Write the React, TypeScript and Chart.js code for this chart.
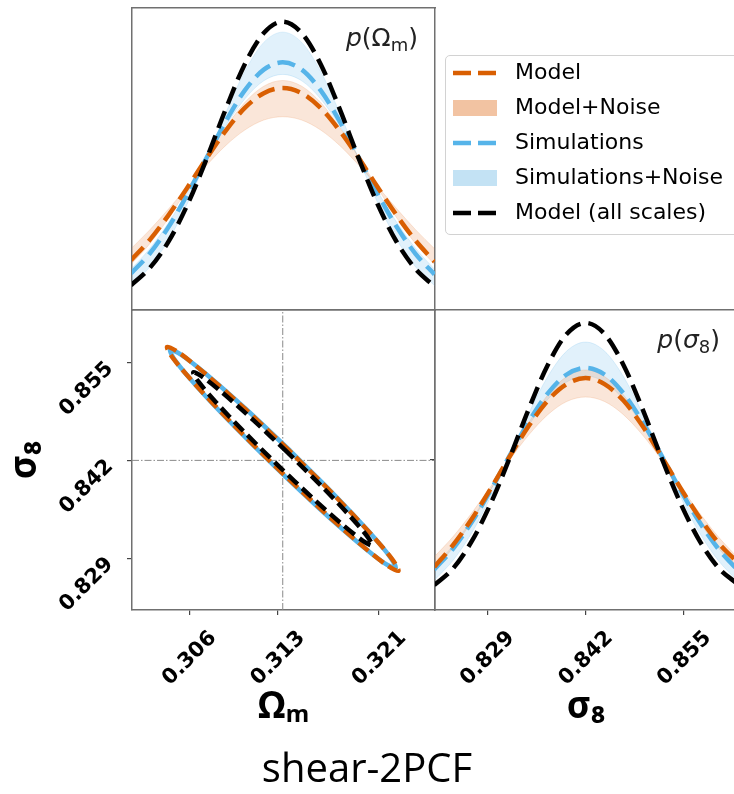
import React, { useEffect, useRef } from "react";
import { Chart, registerables } from "chart.js";

Chart.register(...registerables);

// ---------------- data ----------------
// 1D marginal of Omega_m (top-left panel)
const omegaGrid = [0.3014, 0.3029, 0.3044, 0.3059, 0.3074, 0.3089, 0.3104, 0.3119, 0.3134, 0.3149, 0.3164, 0.3179, 0.3194, 0.3209, 0.3224, 0.3239, 0.3254];
const pOmegaAllScales = [0.082, 0.14, 0.229, 0.352, 0.503, 0.666, 0.814, 0.917, 0.955, 0.917, 0.814, 0.666, 0.503, 0.351, 0.226, 0.136, 0.078];
const pOmegaModel = [0.165, 0.233, 0.316, 0.408, 0.504, 0.594, 0.669, 0.718, 0.735, 0.718, 0.669, 0.594, 0.504, 0.407, 0.314, 0.23, 0.16];
const pOmegaSims = [0.121, 0.188, 0.277, 0.386, 0.506, 0.625, 0.727, 0.796, 0.82, 0.796, 0.727, 0.625, 0.506, 0.385, 0.276, 0.186, 0.118];
const pOmegaModelNoiseHi = [0.151, 0.22, 0.306, 0.404, 0.507, 0.605, 0.687, 0.741, 0.76, 0.741, 0.687, 0.605, 0.507, 0.404, 0.306, 0.22, 0.151];
const pOmegaModelNoiseLo = [0.203, 0.266, 0.336, 0.409, 0.48, 0.545, 0.596, 0.629, 0.64, 0.629, 0.596, 0.545, 0.48, 0.409, 0.336, 0.266, 0.203];
const pOmegaSimsNoiseHi = [0.081, 0.143, 0.234, 0.356, 0.501, 0.653, 0.79, 0.886, 0.92, 0.886, 0.79, 0.653, 0.501, 0.356, 0.234, 0.143, 0.081];
const pOmegaSimsNoiseLo = [0.135, 0.204, 0.291, 0.393, 0.503, 0.61, 0.699, 0.759, 0.78, 0.759, 0.699, 0.61, 0.503, 0.393, 0.291, 0.204, 0.135];

// 1D marginal of sigma_8 (bottom-right panel)
const sigmaGrid = [0.822, 0.8245, 0.827, 0.8295, 0.832, 0.8345, 0.837, 0.8395, 0.842, 0.8445, 0.847, 0.8495, 0.852, 0.8545, 0.857, 0.8595, 0.862];
const pSigmaAllScales = [0.083, 0.139, 0.231, 0.357, 0.509, 0.671, 0.817, 0.92, 0.957, 0.92, 0.817, 0.671, 0.509, 0.358, 0.233, 0.142, 0.088];
const pSigmaModel = [0.143, 0.217, 0.305, 0.406, 0.513, 0.614, 0.698, 0.753, 0.773, 0.753, 0.698, 0.614, 0.513, 0.408, 0.31, 0.225, 0.16];
const pSigmaSims = [0.135, 0.205, 0.295, 0.401, 0.516, 0.628, 0.722, 0.785, 0.807, 0.785, 0.722, 0.628, 0.516, 0.401, 0.295, 0.205, 0.135];
const pSigmaModelNoiseHi = [0.138, 0.208, 0.297, 0.402, 0.515, 0.625, 0.717, 0.778, 0.8, 0.778, 0.717, 0.625, 0.515, 0.402, 0.297, 0.208, 0.138];
const pSigmaModelNoiseLo = [0.177, 0.245, 0.325, 0.413, 0.502, 0.584, 0.651, 0.695, 0.71, 0.695, 0.651, 0.584, 0.502, 0.413, 0.325, 0.245, 0.177];
const pSigmaSimsNoiseHi = [0.099, 0.166, 0.259, 0.379, 0.516, 0.656, 0.778, 0.863, 0.893, 0.863, 0.778, 0.656, 0.516, 0.379, 0.259, 0.166, 0.099];
const pSigmaSimsNoiseLo = [0.146, 0.216, 0.304, 0.405, 0.513, 0.616, 0.702, 0.76, 0.78, 0.76, 0.702, 0.616, 0.513, 0.405, 0.304, 0.216, 0.146];

// 2D contours (bottom-left panel)
const contourModelOmega = [0.31398, 0.31043, 0.30734, 0.30517, 0.30425, 0.30472, 0.30652, 0.30936, 0.31282, 0.31637, 0.31946, 0.32163, 0.32255, 0.32208, 0.32028, 0.31744, 0.31398];
const contourModelSigma = [0.8432, 0.84883, 0.85344, 0.85635, 0.8571, 0.85559, 0.85203, 0.84698, 0.8412, 0.83558, 0.83096, 0.82805, 0.8273, 0.82881, 0.83237, 0.83742, 0.8432];
const contourSimsOmega = [0.31401, 0.31055, 0.30752, 0.30539, 0.30448, 0.30492, 0.30666, 0.30942, 0.31279, 0.31625, 0.31928, 0.32141, 0.32233, 0.32188, 0.32014, 0.31738, 0.31401];
const contourSimsSigma = [0.84325, 0.84873, 0.85322, 0.85603, 0.85673, 0.85523, 0.85174, 0.8468, 0.84116, 0.83567, 0.83119, 0.82837, 0.82767, 0.82917, 0.83266, 0.8376, 0.84325];
const contourAllOmega = [0.31384, 0.3111, 0.30871, 0.30703, 0.30632, 0.30669, 0.30808, 0.31028, 0.31296, 0.3157, 0.31809, 0.31977, 0.32048, 0.32011, 0.31872, 0.31652, 0.31384];
const contourAllSigma = [0.84296, 0.84731, 0.85089, 0.85314, 0.85372, 0.85256, 0.84981, 0.84591, 0.84144, 0.83709, 0.83351, 0.83126, 0.83068, 0.83184, 0.83459, 0.83849, 0.84296];

const truthOmega = 0.3134;
const truthSigma = 0.842;
const omegaRange = [0.30148, 0.32544];
const sigmaRange = [0.8221, 0.862];
const omegaTicks = [0.306, 0.313, 0.321];
const sigmaTicks = [0.829, 0.842, 0.855];
const densityRange = [0, 1];
const legendLabels = ["Model", "Model+Noise", "Simulations", "Simulations+Noise", "Model (all scales)"];

// ---------------- styles ----------------
const ORANGE = "#d95f02";
const BLUE = "#56b4e9";
const BLACK = "#000000";
const ORANGE_BAND = "rgba(236,150,95,0.24)";
const BLUE_BAND = "rgba(120,190,235,0.22)";
const ORANGE_SWATCH = "#f2c3a2";
const BLUE_SWATCH = "#c3e2f4";
const DASH = [18, 8];
const DASH2D = [13, 6];
const SPINE = { display: true, color: "#707070", width: 1.5 };
const TICK_FONT = { family: "'DejaVu Sans', sans-serif", size: 21, weight: "bold" as const };
const AXIS_TITLE_FONT = { family: "'Noto Sans', sans-serif", size: 37, weight: "bold" as const, lineHeight: 1.2 };
const fmt3 = (v: any) => Number(v).toFixed(3);

type Part = { t: string; italic?: boolean; sub?: boolean };

const panelLabel = {
  id: "panelLabel",
  afterDatasetsDraw(chart: any) {
    const cfg = chart.config.options?.plugins?.panelLabel;
    if (!cfg || !cfg.parts) return;
    const { ctx, chartArea } = chart;
    const size: number = cfg.size || 25;
    const family = "'DejaVu Sans', sans-serif";
    const fontFor = (p: Part) => `${p.italic ? "italic " : ""}${p.sub ? Math.round(size * 0.7) : size}px ${family}`;
    ctx.save();
    const parts: Part[] = cfg.parts;
    let total = 0;
    const widths = parts.map((p) => {
      ctx.font = fontFor(p);
      const w = ctx.measureText(p.t).width;
      total += w;
      return w;
    });
    let x = chartArea.right - cfg.dx - total;
    const y = chartArea.top + cfg.dy;
    ctx.fillStyle = "#222";
    ctx.textAlign = "left";
    ctx.textBaseline = "alphabetic";
    parts.forEach((p, i) => {
      ctx.font = fontFor(p);
      ctx.fillText(p.t, x, p.sub ? y + size * 0.2 : y);
      x += widths[i];
    });
    ctx.restore();
  },
};

const pts = (xs: number[], ys: number[]) => xs.map((x, i) => ({ x, y: ys[i] }));

const curve = (xs: number[], ys: number[], color: string, dash: number[], width = 4.5) => ({
  data: pts(xs, ys),
  borderColor: color,
  borderWidth: width,
  borderDash: dash,
  pointRadius: 0,
  fill: false,
  cubicInterpolationMode: "monotone",
  borderCapStyle: "butt",
});

const bandEdge = (xs: number[], ys: number[], color: string) => ({
  data: pts(xs, ys),
  borderColor: color,
  borderWidth: 1,
  pointRadius: 0,
  fill: false,
  cubicInterpolationMode: "monotone",
});

const bandFill = (xs: number[], ys: number[], target: number, color: string) => ({
  data: pts(xs, ys),
  borderColor: color,
  borderWidth: 1,
  pointRadius: 0,
  backgroundColor: color,
  fill: { target },
  cubicInterpolationMode: "monotone",
});

const contour = (xs: number[], ys: number[], color: string, dash: number[]) => ({
  data: pts(xs, ys),
  borderColor: color,
  borderWidth: 4.5,
  borderDash: dash,
  borderJoinStyle: "round",
  pointRadius: 0,
  fill: false,
  tension: 0.3,
});

const frameAxis = (position: "top" | "right", min: number, max: number, size = 0) => ({
  type: "linear",
  position,
  min,
  max,
  ticks: { display: false },
  grid: { display: false },
  border: SPINE,
  afterFit: (s: any) => {
    if (position === "top") s.height = size;
    else s.width = size;
  },
});

const baseOptions = {
  animation: false,
  responsive: false,
  maintainAspectRatio: false,
  events: [],
};

function topLeftConfig(): any {
  return {
    type: "line",
    data: {
      datasets: [
        curve(omegaGrid, pOmegaAllScales, BLACK, DASH),
        curve(omegaGrid, pOmegaModel, ORANGE, DASH),
        curve(omegaGrid, pOmegaSims, BLUE, DASH),
        bandEdge(omegaGrid, pOmegaModelNoiseHi, ORANGE_BAND),
        bandFill(omegaGrid, pOmegaModelNoiseLo, 3, ORANGE_BAND),
        bandEdge(omegaGrid, pOmegaSimsNoiseHi, BLUE_BAND),
        bandFill(omegaGrid, pOmegaSimsNoiseLo, 5, BLUE_BAND),
      ],
    },
    options: {
      ...baseOptions,
      layout: { padding: { left: 132, top: 8, right: 299, bottom: 484 } },
      scales: {
        x: {
          type: "linear", min: omegaRange[0], max: omegaRange[1],
          ticks: { display: false }, grid: { display: false }, border: SPINE,
          afterFit: (s: any) => { s.height = 0; },
        },
        y: {
          type: "linear", min: densityRange[0], max: densityRange[1],
          ticks: { display: false }, grid: { display: false }, border: SPINE,
          afterFit: (s: any) => { s.width = 0; },
        },
        xTop: frameAxis("top", omegaRange[0], omegaRange[1]),
        yRight: frameAxis("right", densityRange[0], densityRange[1]),
      },
      plugins: {
        legend: { display: false },
        tooltip: { enabled: false },
        panelLabel: { parts: [{ t: "p", italic: true }, { t: "(Ω" }, { t: "m", sub: true }, { t: ")" }], dx: 17, dy: 38, size: 25 },
      },
    },
    plugins: [panelLabel],
  };
}

function bottomLeftConfig(): any {
  return {
    type: "line",
    data: {
      datasets: [
        contour(contourAllOmega, contourAllSigma, BLACK, DASH2D),
        contour(contourModelOmega, contourModelSigma, ORANGE, DASH2D),
        contour(contourSimsOmega, contourSimsSigma, BLUE, []),
        {
          data: [{ x: truthOmega, y: sigmaRange[0] }, { x: truthOmega, y: sigmaRange[1] }],
          borderColor: "#8a8a8a", borderWidth: 1, borderDash: [7, 2, 1.5, 2], pointRadius: 0, tension: 0,
        },
        {
          data: [{ x: omegaRange[0], y: truthSigma }, { x: omegaRange[1], y: truthSigma }],
          borderColor: "#8a8a8a", borderWidth: 1, borderDash: [7, 2, 1.5, 2], pointRadius: 0, tension: 0,
        },
      ],
    },
    options: {
      ...baseOptions,
      layout: { padding: { left: 0, top: 310, right: 0, bottom: 3 } },
      scales: {
        x: {
          type: "linear", min: omegaRange[0], max: omegaRange[1],
          afterBuildTicks: (s: any) => { s.ticks = omegaTicks.map((v) => ({ value: v })); },
          ticks: { font: TICK_FONT, color: "#000", minRotation: 45, maxRotation: 45, padding: 11, labelOffset: 24, autoSkip: false, callback: fmt3 },
          grid: { display: true, drawOnChartArea: false, drawTicks: true, tickLength: 5, color: "#444", lineWidth: 1.2 },
          border: SPINE,
          title: { display: true, text: "Ωₘ", font: AXIS_TITLE_FONT, color: "#000", padding: { top: 0, bottom: 21 } },
          afterFit: (s: any) => { s.height = 141; },
        },
        y: {
          type: "linear", min: sigmaRange[0], max: sigmaRange[1],
          afterBuildTicks: (s: any) => { s.ticks = sigmaTicks.map((v) => ({ value: v })); },
          ticks: { font: TICK_FONT, color: "#000", minRotation: 45, maxRotation: 45, padding: 17, labelOffset: 3, autoSkip: false, callback: fmt3 },
          grid: { display: true, drawOnChartArea: false, drawTicks: true, tickLength: 5, color: "#444", lineWidth: 1.2 },
          border: SPINE,
          title: { display: true, text: "σ₈", font: AXIS_TITLE_FONT, color: "#000", padding: { top: 3, bottom: 0 } },
          afterFit: (s: any) => { s.width = 132; },
        },
        xTop: frameAxis("top", omegaRange[0], omegaRange[1]),
        yRight: frameAxis("right", sigmaRange[0], sigmaRange[1], 299),
      },
      plugins: {
        legend: { display: false },
        tooltip: { enabled: false },
        title: {
          display: true, text: "shear-2PCF", position: "bottom", color: "#000", padding: 0,
          font: { family: "'Open Sans', sans-serif", size: 40, weight: "normal", lineHeight: 1 },
        },
      },
    },
  };
}

function bottomRightConfig(): any {
  return {
    type: "line",
    data: {
      datasets: [
        curve(sigmaGrid, pSigmaAllScales, BLACK, DASH),
        curve(sigmaGrid, pSigmaModel, ORANGE, DASH),
        curve(sigmaGrid, pSigmaSims, BLUE, DASH),
        bandEdge(sigmaGrid, pSigmaModelNoiseHi, ORANGE_BAND),
        bandFill(sigmaGrid, pSigmaModelNoiseLo, 3, ORANGE_BAND),
        bandEdge(sigmaGrid, pSigmaSimsNoiseHi, BLUE_BAND),
        bandFill(sigmaGrid, pSigmaSimsNoiseLo, 5, BLUE_BAND),
      ],
    },
    options: {
      ...baseOptions,
      layout: { padding: { left: 430, top: 310, right: 8, bottom: 43 } },
      scales: {
        x: {
          type: "linear", min: sigmaRange[0], max: sigmaRange[1],
          afterBuildTicks: (s: any) => { s.ticks = sigmaTicks.map((v) => ({ value: v })); },
          ticks: { font: TICK_FONT, color: "#000", minRotation: 45, maxRotation: 45, padding: 11, labelOffset: 24, autoSkip: false, callback: fmt3 },
          grid: { display: true, drawOnChartArea: false, drawTicks: true, tickLength: 5, color: "#444", lineWidth: 1.2 },
          border: SPINE,
          title: { display: true, text: "σ₈", font: AXIS_TITLE_FONT, color: "#000", padding: { top: 0, bottom: 21 } },
          afterFit: (s: any) => { s.height = 141; },
        },
        y: {
          type: "linear", min: densityRange[0], max: densityRange[1],
          afterBuildTicks: (s: any) => { s.ticks = [{ value: 0.5 }]; },
          ticks: { display: false },
          grid: { display: true, drawOnChartArea: false, drawTicks: true, tickLength: 5, color: "#444", lineWidth: 1.2 },
          border: SPINE,
          afterFit: (s: any) => { s.width = 5; },
        },
        xTop: frameAxis("top", sigmaRange[0], sigmaRange[1]),
        yRight: frameAxis("right", densityRange[0], densityRange[1]),
      },
      plugins: {
        legend: { display: false },
        tooltip: { enabled: false },
        panelLabel: { parts: [{ t: "p", italic: true }, { t: "(" }, { t: "σ", italic: true }, { t: "8", sub: true }, { t: ")" }], dx: 17, dy: 38, size: 25 },
      },
    },
    plugins: [panelLabel],
  };
}

function makeSwatch(color: string) {
  const c = document.createElement("canvas");
  c.width = 44;
  c.height = 16;
  const g = c.getContext("2d")!;
  g.fillStyle = color;
  g.fillRect(0, 0, 44, 16);
  return c;
}

function legendConfig(): any {
  const LEGEND_DASH = [0, 7, 18, 7, 18, 100];
  const orangeSw = makeSwatch(ORANGE_SWATCH);
  const blueSw = makeSwatch(BLUE_SWATCH);
  const styles = [
    { pointStyle: "line", strokeStyle: ORANGE, lineWidth: 4.5, lineDash: LEGEND_DASH },
    { pointStyle: orangeSw, strokeStyle: ORANGE_SWATCH, lineWidth: 0, lineDash: [] },
    { pointStyle: "line", strokeStyle: BLUE, lineWidth: 4.5, lineDash: LEGEND_DASH },
    { pointStyle: blueSw, strokeStyle: BLUE_SWATCH, lineWidth: 0, lineDash: [] },
    { pointStyle: "line", strokeStyle: BLACK, lineWidth: 4.5, lineDash: LEGEND_DASH },
  ];
  return {
    type: "line",
    data: { datasets: [] },
    options: {
      ...baseOptions,
      layout: { padding: { left: 3, top: 49, right: 0, bottom: 0 } },
      scales: { x: { display: false }, y: { display: false } },
      plugins: {
        tooltip: { enabled: false },
        legend: {
          display: true,
          position: "left",
          align: "start",
          labels: {
            usePointStyle: true,
            pointStyleWidth: 58,
            boxHeight: 16,
            padding: 13,
            color: "#111",
            font: { family: "'DejaVu Sans', sans-serif", size: 22 },
            generateLabels: () =>
              legendLabels.map((text, i) => ({
                text,
                fillStyle: "rgba(0,0,0,0)",
                hidden: false,
                datasetIndex: i,
                ...styles[i],
              })),
          },
        },
      },
    },
  };
}

function ChartCanvas({ width, height, left = 0, build }: { width: number; height: number; left?: number; build: () => any }) {
  const ref = useRef<HTMLCanvasElement | null>(null);
  useEffect(() => {
    if (!ref.current) return;
    const chart = new Chart(ref.current, build());
    return () => chart.destroy();
  }, []);
  return (
    <canvas
      ref={ref}
      width={width}
      height={height}
      style={{ position: "absolute", left, top: 0, width, height }}
    />
  );
}

export default function App() {
  return (
    <div
      style={{
        position: "fixed",
        left: 0,
        top: 0,
        width: 734,
        height: 794,
        overflow: "hidden",
        background: "#fff",
      }}
    >
      <div
        style={{
          position: "absolute",
          left: 445,
          top: 55,
          width: 300,
          height: 180,
          border: "1.5px solid #d2d2d2",
          borderRadius: 5,
          boxSizing: "border-box",
        }}
      />
      <ChartCanvas width={734} height={794} build={topLeftConfig} />
      <ChartCanvas width={734} height={794} build={bottomLeftConfig} />
      <ChartCanvas width={745} height={794} build={bottomRightConfig} />
      <ChartCanvas width={720} height={300} left={430} build={legendConfig} />
    </div>
  );
}
